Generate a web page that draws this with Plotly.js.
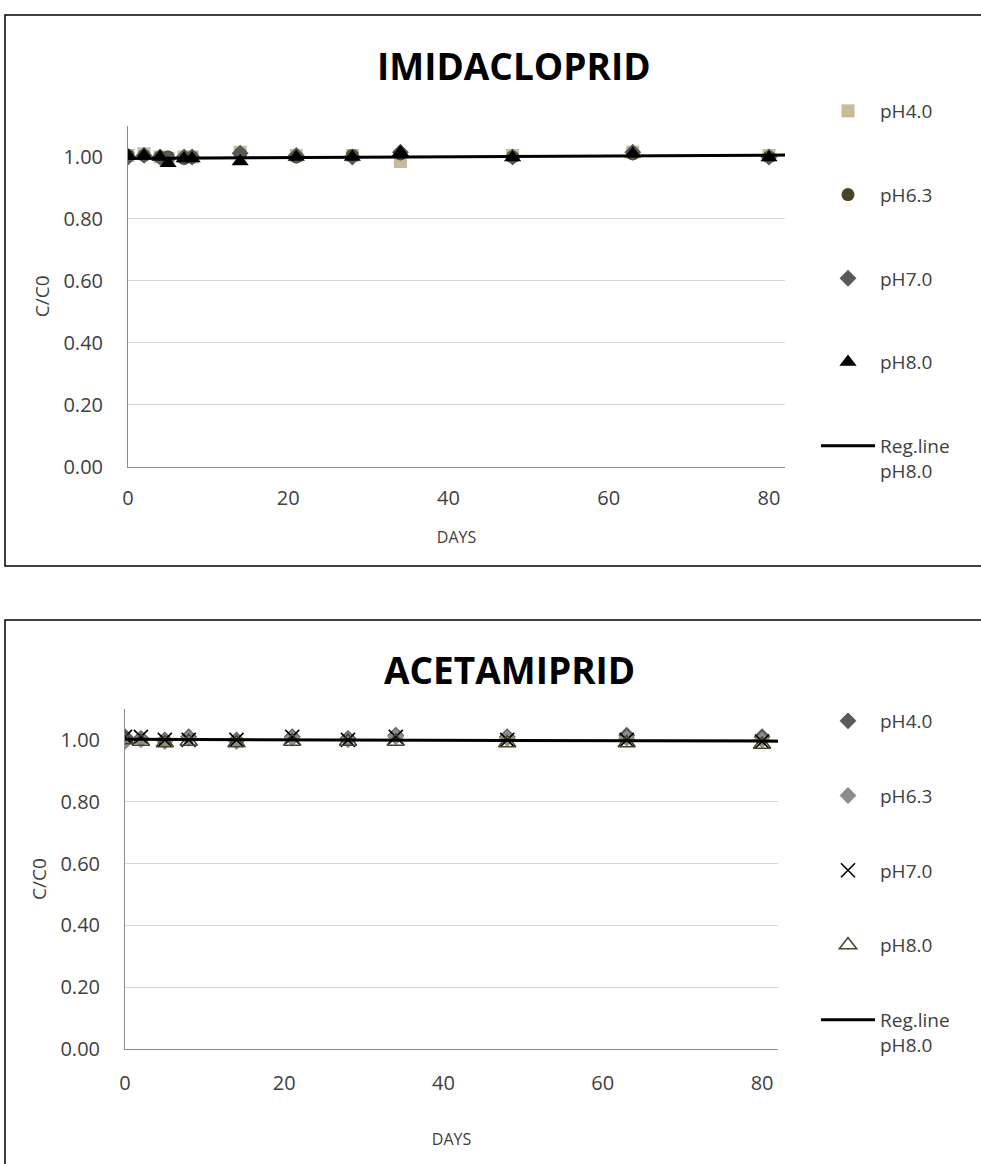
<!DOCTYPE html>
<html>
<head>
<meta charset="utf-8">
<script src="https://cdn.plot.ly/plotly-3.0.1.min.js"></script>
<style>html,body{margin:0;padding:0;background:#fff;}#chart{width:981px;height:1164px;}</style>
</head>
<body>
<div id="chart"></div>
<script>
// ---------- IMIDACLOPRID (top chart) ----------
const imiDays   = [0, 2, 4, 5, 7, 8, 14, 21, 28, 34, 48, 63, 80];
const imiPH40   = [1.005, 1.01, 1.0, 0.995, 1.0, 1.0, 1.015, 1.005, 1.005, 0.985, 1.005, 1.015, 1.005];
const imiPH63   = [1.005, 1.005, 1.0, 1.0, 0.995, 1.0, 1.01, 1.0, 1.005, 1.01, 1.0, 1.01, 1.0];
const imiPH70   = [1.0, 1.005, 1.0, 0.995, 1.0, 1.0, 1.012, 1.005, 1.0, 1.015, 1.0, 1.015, 1.0];
const imiPH80   = [1.005, 1.005, 1.0, 0.98, 0.995, 0.995, 0.985, 1.0, 1.0, 1.015, 0.998, 1.01, 0.998];
const imiRegX   = [0, 82];
const imiRegY   = [0.995, 1.006];

// ---------- ACETAMIPRID (bottom chart) ----------
const aceDays   = [0, 2, 5, 8, 14, 21, 28, 34, 48, 63, 80];
const acePH40   = [1.01, 1.005, 1.0, 1.01, 1.0, 1.01, 1.005, 1.015, 1.01, 1.015, 1.01];
const acePH63   = [0.995, 1.0, 0.995, 1.005, 0.995, 1.005, 1.0, 1.01, 1.005, 1.005, 1.0];
const acePH70   = [1.01, 1.01, 1.0, 1.0, 1.0, 1.01, 1.0, 1.01, 1.0, 1.0, 0.995];
const acePH80   = [1.0, 0.995, 0.99, 0.995, 0.99, 0.995, 0.995, 0.995, 0.99, 0.99, 0.985];
const aceRegX   = [0, 82];
const aceRegY   = [1.002, 0.996];

const seriesNames = ['pH4.0', 'pH6.3', 'pH7.0', 'pH8.0'];
const regName = 'Reg.line<br>pH8.0';
const titles = ['IMIDACLOPRID', 'ACETAMIPRID'];
const xTitle = 'DAYS';
const yTitle = 'C/C0';
const xTicks = [0, 20, 40, 60, 80];
const yTicks = [0, 0.2, 0.4, 0.6, 0.8, 1.0];

const W = 981, H = 1164;
const px = v => v / W;
const py = v => 1 - v / H;
const FONT = 'Open Sans, sans-serif';
const TXT = '#404040';

function pts(x, y, name, marker, xa, ya, leg, grp) {
  return {type: 'scatter', mode: 'markers', x: x, y: y, name: name, marker: marker,
          xaxis: xa, yaxis: ya, legend: leg, legendgroup: grp, showlegend: true,
          hoverinfo: 'x+y+name'};
}
function reg(x, y, xa, ya, leg, grp) {
  return {type: 'scatter', mode: 'lines', x: x, y: y, name: regName,
          line: {color: '#000000', width: 3}, xaxis: xa, yaxis: ya, legend: leg, legendgroup: grp};
}

const data = [
  pts(imiDays, imiPH40, seriesNames[0], {symbol: 'square', size: 13, color: '#c4bd97'}, 'x', 'y', 'legend', 'a1'),
  pts(imiDays, imiPH63, seriesNames[1], {symbol: 'circle', size: 13, color: '#4a4528'}, 'x', 'y', 'legend', 'a2'),
  pts(imiDays, imiPH70, seriesNames[2], {symbol: 'diamond', size: 13, color: '#595959'}, 'x', 'y', 'legend', 'a3'),
  pts(imiDays, imiPH80, seriesNames[3], {symbol: 'triangle-up', size: 15, color: '#000000'}, 'x', 'y', 'legend', 'a4'),
  reg(imiRegX, imiRegY, 'x', 'y', 'legend', 'a5'),

  pts(aceDays, acePH40, seriesNames[0], {symbol: 'diamond', size: 13, color: '#595959'}, 'x2', 'y2', 'legend2', 'b1'),
  pts(aceDays, acePH63, seriesNames[1], {symbol: 'diamond', size: 13, color: '#8c8c8c'}, 'x2', 'y2', 'legend2', 'b2'),
  pts(aceDays, acePH70, seriesNames[2], {symbol: 'x-thin-open', size: 14, color: '#000000', line: {color: '#000000', width: 1.6}}, 'x2', 'y2', 'legend2', 'b3'),
  pts(aceDays, acePH80, seriesNames[3], {symbol: 'triangle-up-open', size: 15, color: '#4a4528', line: {color: '#4a4528', width: 1.6}}, 'x2', 'y2', 'legend2', 'b4'),
  reg(aceRegX, aceRegY, 'x2', 'y2', 'legend2', 'b5')
];

function xaxis(domain, anchor, tickStand, titleStand) {
  return {domain: domain, anchor: anchor, range: [0, 82], tickvals: xTicks, ticks: '',
          showgrid: false, zeroline: false, showline: true, linecolor: '#8c8c8c', linewidth: 1,
          tickfont: {family: FONT, size: 20, color: TXT}, ticklabelstandoff: tickStand,
          title: {text: xTitle, font: {family: FONT, size: 16, color: TXT}, standoff: titleStand}};
}
function yaxis(domain, anchor) {
  return {domain: domain, anchor: anchor, range: [0, 1.1], tickvals: yTicks, tickformat: '.2f', ticks: '',
          showgrid: true, gridcolor: '#d9d9d9', gridwidth: 1, zeroline: false,
          showline: true, linecolor: '#8c8c8c', linewidth: 1,
          tickfont: {family: FONT, size: 20, color: TXT}, ticklabelstandoff: 20,
          title: {text: yTitle, font: {family: FONT, size: 19, color: TXT}, standoff: 8}};
}
function legend(top, gap) {
  return {x: px(816), y: py(top), xanchor: 'left', yanchor: 'top', valign: 'top',
          traceorder: 'grouped', tracegroupgap: gap, itemwidth: 54, bgcolor: 'rgba(0,0,0,0)',
          font: {family: FONT, size: 19, color: TXT}};
}

const layout = {
  width: W, height: H, margin: {l: 0, r: 0, t: 0, b: 0},
  paper_bgcolor: '#ffffff', plot_bgcolor: '#ffffff', showlegend: true,
  font: {family: FONT, color: TXT},
  xaxis: xaxis([px(128), px(785)], 'y', 13, 22),
  yaxis: yaxis([py(466.5), py(126)], 'x'),
  xaxis2: xaxis([px(125), px(778)], 'y2', 16, 38),
  yaxis2: yaxis([py(1049), py(709)], 'x2'),
  legend: legend(92, 56),
  legend2: legend(702, 47),
  annotations: [
    {text: '<b>' + titles[0] + '</b>', xref: 'paper', yref: 'paper', x: px(514), y: py(65),
     xanchor: 'center', yanchor: 'middle', showarrow: false, font: {family: FONT, size: 37, color: '#000000'}},
    {text: '<b>' + titles[1] + '</b>', xref: 'paper', yref: 'paper', x: px(510), y: py(669),
     xanchor: 'center', yanchor: 'middle', showarrow: false, font: {family: FONT, size: 37, color: '#000000'}}
  ],
  shapes: [
    {type: 'rect', xref: 'paper', yref: 'paper', x0: px(5), x1: 1.05, y0: py(566), y1: py(15),
     line: {color: '#000000', width: 1.5}, layer: 'below'},
    {type: 'rect', xref: 'paper', yref: 'paper', x0: px(5), x1: 1.05, y0: -0.05, y1: py(620),
     line: {color: '#000000', width: 1.5}, layer: 'below'}
  ]
};

Plotly.newPlot('chart', data, layout, {displayModeBar: false, staticPlot: true});
</script>
</body>
</html>
